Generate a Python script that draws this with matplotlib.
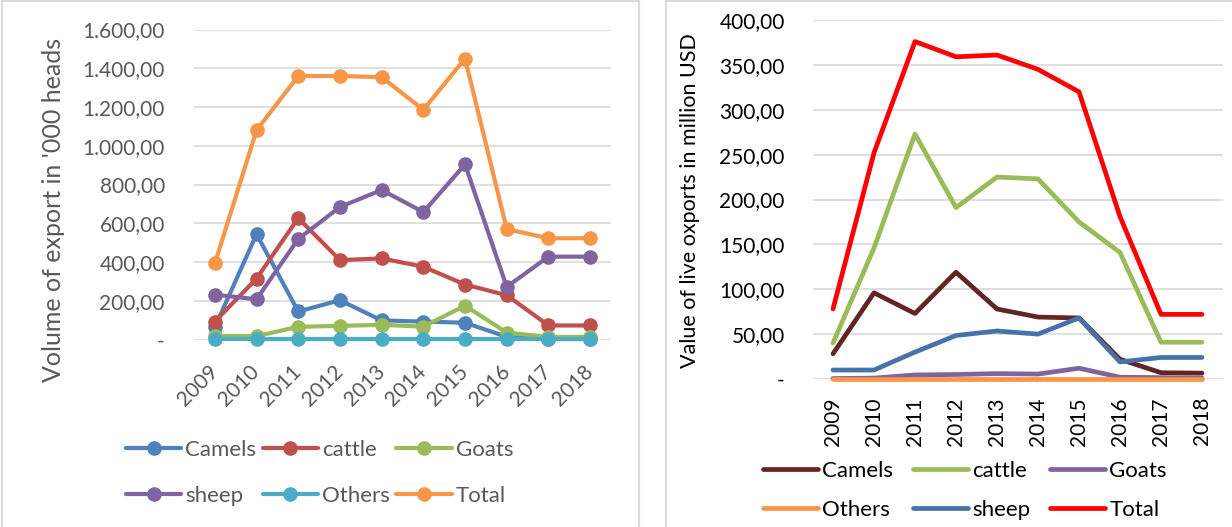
import matplotlib.pyplot as plt
from matplotlib.patches import Rectangle
from matplotlib.ticker import FuncFormatter

plt.rcParams['font.family'] = ['Lato', 'DejaVu Sans']
plt.rcParams['lines.solid_capstyle'] = 'round'
plt.rcParams['lines.solid_joinstyle'] = 'round'

years = ['2009', '2010', '2011', '2012', '2013', '2014', '2015', '2016', '2017', '2018']

# left: volume of export in '000 heads
vol_camels = [64, 544, 145, 203, 99, 93, 87, 14, 3, 3]
vol_cattle = [93, 315, 627, 410, 419, 376, 284, 229, 73, 73]
vol_goats = [18, 18, 66, 71, 76, 67, 175, 36, 14, 14]
vol_sheep = [232, 208, 519, 684, 772, 658, 904, 272, 428, 428]
vol_others = [1, 1, 1, 1, 1, 1, 1, 1, 1, 1]
vol_total = [393, 1080, 1360, 1360, 1354, 1186, 1450, 570, 523, 523]

# right: value of live exports in million USD
val_camels = [28, 96, 73, 119, 78, 69, 68, 22, 7, 6.5]
val_cattle = [40, 146, 273, 191, 225, 223, 175, 141, 41, 41]
val_goats = [0.5, 1, 4.5, 5, 6, 5.5, 12, 2, 1.5, 1]
val_others = [0.5, 0.5, 0.5, 0.5, 0.5, 0.5, 0.5, 0.5, 0.5, 0.5]
val_sheep = [10, 10, 30, 48.5, 53.5, 50, 68, 19, 24, 24]
val_total = [78, 252, 376, 359, 361, 345, 320, 181, 72, 72]

W, H = 1232, 527
GRID = '#d9d9d9'
GREY_TXT = '#595959'


def euro_fmt(v, _):
    if abs(v) < 1e-9:
        return '-'
    s = f'{v:,.2f}'
    return s.replace(',', 'X').replace('.', ',').replace('X', '.')


def px_axes(fig, x0, y0, x1, y1):
    return fig.add_axes([x0 / W, 1 - y1 / H, (x1 - x0) / W, (y1 - y0) / H])


def style_axes(ax, ymax, step, txt_color):
    ax.set_xlim(-0.5, 9.5)
    ax.set_ylim(0, ymax)
    ax.set_yticks(range(0, ymax + 1, step))
    ax.yaxis.set_major_formatter(FuncFormatter(euro_fmt))
    ax.grid(axis='y', color=GRID, linewidth=1.2, solid_capstyle='butt')
    ax.set_axisbelow(True)
    for sp in ax.spines.values():
        sp.set_visible(False)
    ax.tick_params(length=0, colors=txt_color)
    ax.set_xticks(range(len(years)))
    ax.patch.set_alpha(0)


fig = plt.figure(figsize=(W / 100, H / 100), dpi=100)

# panel borders
fig.patches.append(Rectangle((2 / W, -0.01), 637 / W, 1 - 1 / H + 0.01,
                             transform=fig.transFigure, fill=False,
                             edgecolor=GRID, linewidth=1.5))
fig.patches.append(Rectangle((666 / W, -0.01), 0.5, 1 - 1 / H + 0.01,
                             transform=fig.transFigure, fill=False,
                             edgecolor=GRID, linewidth=1.5))

# =================== LEFT ===================
ax1 = px_axes(fig, 194, 29.5, 611, 339.6)
style_axes(ax1, 1600, 200, GREY_TXT)
left_series = [
    ('Camels', vol_camels, '#4f81bd'),
    ('cattle', vol_cattle, '#c0504d'),
    ('Goats', vol_goats, '#9bbb59'),
    ('sheep', vol_sheep, '#8064a2'),
    ('Others', vol_others, '#4bacc6'),
    ('Total', vol_total, '#f79646'),
]
h1 = {}
for name, vals, col in left_series:
    h1[name], = ax1.plot(range(len(years)), vals, color=col, linewidth=3.0,
                         marker='o', markersize=9.5, label=name, clip_on=False)
ax1.set_xticklabels(years, rotation=45, ha='right', va='center',
                    rotation_mode='anchor')
ax1.tick_params(axis='x', labelsize=15, pad=21)
ax1.tick_params(axis='y', labelsize=15, pad=21)
ax1.set_ylabel("Volume of export in '000 heads", fontsize=18, color=GREY_TXT)
ax1.yaxis.set_label_coords(-0.309, 0.418)

order1 = ['Camels', 'sheep', 'cattle', 'Others', 'Goats', 'Total']
fig.legend([h1[n] for n in order1], order1, ncol=3, frameon=False,
           loc='upper left', bbox_to_anchor=(126 / W, 1 - 440 / H),
           borderaxespad=0, fontsize=16, handlelength=2.48,
           handletextpad=0.18, columnspacing=0.3, labelspacing=1.17,
           borderpad=0, labelcolor=GREY_TXT)

# =================== RIGHT ===================
ax2 = px_axes(fig, 812.5, 20, 1222.5, 379)
style_axes(ax2, 400, 50, 'black')
right_series = [
    ('Camels', val_camels, '#632523'),
    ('cattle', val_cattle, '#9bbb59'),
    ('Goats', val_goats, '#8064a2'),
    ('Others', val_others, '#f79646'),
    ('sheep', val_sheep, '#4672aa'),
    ('Total', val_total, '#ff0000'),
]
h2 = {}
for name, vals, col in right_series:
    h2[name], = ax2.plot(range(len(years)), vals, color=col, linewidth=3.4,
                         label=name, clip_on=False)
ax2.set_xticklabels(years, rotation=90)
ax2.tick_params(axis='x', labelsize=15, pad=13)
ax2.tick_params(axis='y', labelsize=15, pad=20)
ax2.set_ylabel('Value of live oxports in million USD', fontsize=15.5,
               color='black')
ax2.yaxis.set_label_coords(-0.274, 0.497)

order2 = ['Camels', 'Others', 'cattle', 'sheep', 'Goats', 'Total']
fig.legend([h2[n] for n in order2], order2, ncol=3, frameon=False,
           loc='upper left', bbox_to_anchor=(763 / W, 1 - 461 / H),
           borderaxespad=0, fontsize=16, handlelength=2.48,
           handletextpad=0.18, columnspacing=0.9, labelspacing=0.86,
           borderpad=0)

fig.savefig('out.png', dpi=100)
